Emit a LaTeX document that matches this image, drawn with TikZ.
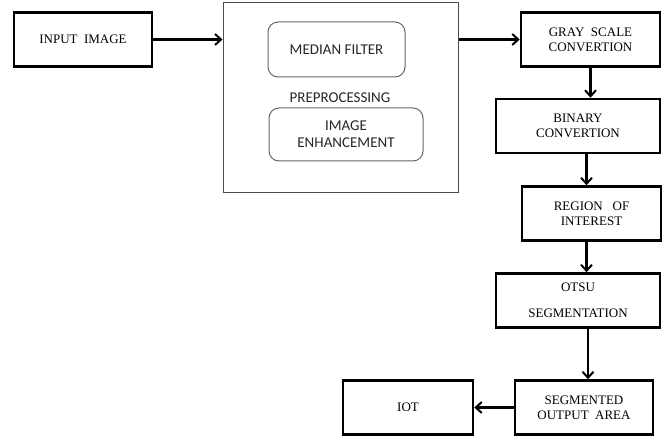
\documentclass[tikz,border=0pt]{standalone}
\usepackage{fontspec}
\setmainfont{Liberation Serif}
\newfontfamily\calfont{Carlito}
\usetikzlibrary{arrows.meta, calc}

\begin{document}
\begin{tikzpicture}[x=1pt, y=-1pt,
    box/.style={draw=black, line width=2.6pt, minimum height=54pt, align=center,
                font=\fontsize{13}{15}\selectfont, inner sep=2pt},
    soft/.style={draw=black!60, line width=1pt, rounded corners=10pt, align=center,
                 text=black!85, font=\calfont\fontsize{15}{17}\selectfont},
    arr/.style={-{Straight Barb[length=6pt, width=11pt, line width=2pt]}, line width=2.4pt}]

  \useasboundingbox (0, 0) rectangle (664, 438);

  % preprocessing block
  \node[draw=black!70, line width=1pt, minimum width=235pt, minimum height=190pt, inner sep=0pt]
    (prep) at (340.5, 98) {};
  \node[soft, minimum width=137pt, minimum height=55pt] (median) at (336.5, 49.5) {MEDIAN FILTER};
  \node[text=black!85, font=\calfont\fontsize{15}{17}\selectfont] (preplabel) at (340, 98) {PREPROCESSING};
  \node[soft, minimum width=154pt, minimum height=53pt] (enhance) at (346, 134.5) {IMAGE\\ENHANCEMENT};

  % processing steps
  \foreach \name/\x/\y/\w/\txt in {input/83/39.5/138/{INPUT\ \ IMAGE},
                                   gray/590.5/39.5/139/{GRAY\ \ SCALE\\CONVERTION},
                                   binary/578/126/164/{BINARY\\CONVERTION},
                                   region/591.5/213.5/139/{REGION\ \ \ OF\\INTEREST},
                                   otsu/578/300.5/164/{OTSU\\[11pt]SEGMENTATION},
                                   seg/584/407.5/138/{SEGMENTED\\OUTPUT\ \ AREA},
                                   iot/408/407.5/130/{IOT}} {
    \node[box, minimum width=\w] (\name) at (\x, \y) {\txt};
  }

  \draw[arr] (input.east) -- (input.east -| prep.west);
  \draw[arr] (prep.east |- gray.west) -- (gray.west);
  \draw[arr] (gray.south) -- (gray.south |- binary.north);
  \draw[arr] ($(region.north |- binary.south) + (-5, 0)$) -- ($(region.north) + (-5, 0)$);
  \draw[arr] ($(region.south) + (-5, 0)$) -- ($(region.south |- otsu.north) + (-5, 0)$);
  \draw[arr] ($(otsu.south -| seg.north) + (4, 0)$) -- ($(seg.north) + (4, 0)$);
  \draw[arr] (seg.west) -- (seg.west -| iot.east);

\end{tikzpicture}
\end{document}
